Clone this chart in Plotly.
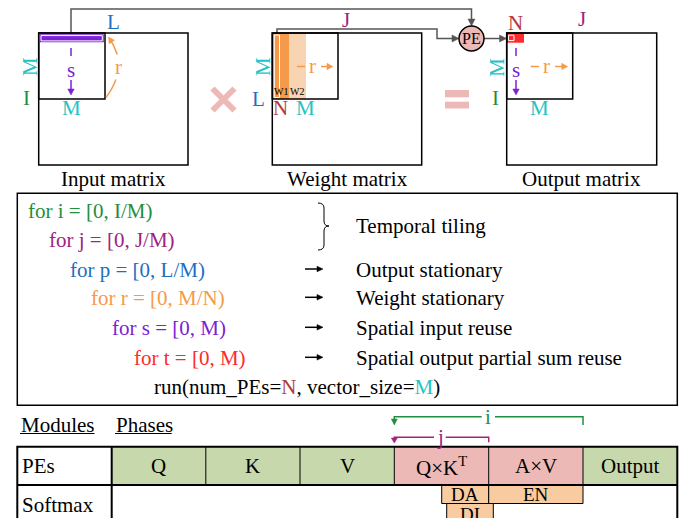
import math
import plotly.graph_objects as go

FONT = "Liberation Serif"
FS = 21

GREEN = "#1f8f3f"
MAGENTA = "#a0237f"
BLUE = "#1f6ebf"
ORANGE = "#f59a4a"
LIGHT_ORANGE = "#f9d4b2"
PURPLE = "#7b22d6"
RED = "#ff2a2a"
CYAN = "#23c4c4"
BROWN = "#b33b3b"
GREY = "#555555"
PINK = "#ecb9b6"
CELL_GREEN = "#c6d8ac"
PEACH = "#f8cba0"

# ---- content ----
matrix_titles = ["Input matrix", "Weight matrix", "Output matrix"]
loop_lines = ["for i = [0, I/M)", "for j = [0, J/M)", "for p = [0, L/M)",
              "for r = [0, M/N)", "for s = [0, M)", "for t = [0, M)"]
loop_colors = [GREEN, MAGENTA, BLUE, ORANGE, PURPLE, RED]
loop_meaning = ["Temporal tiling", "Output stationary", "Weight stationary",
                "Spatial input reuse", "Spatial output partial sum reuse"]
run_line = ("run(num_PEs=<span style='color:%s'>N</span>, vector_size="
            "<span style='color:%s'>M</span>)" % (BROWN, CYAN))
phases = ["Q", "K", "V", "Q×K<sup>T</sup>", "A×V", "Output"]
phase_colors = [CELL_GREEN, CELL_GREEN, CELL_GREEN, PINK, PINK, CELL_GREEN]
modules = ["PEs", "Softmax"]
softmax_ops = ["DA", "EN", "DI"]
loop_vars = ["i", "j"]

shapes = []
annos = []


def rect(x0, y0, x1, y1, color="black", lw=1.5, fill=None):
    shapes.append(dict(type="rect", xref="x", yref="y", x0=x0, y0=y0, x1=x1, y1=y1,
                       line=dict(color=color, width=lw),
                       fillcolor=fill if fill else "rgba(0,0,0,0)", layer="above"))


def frect(x0, y0, x1, y1, fill):
    shapes.append(dict(type="rect", xref="x", yref="y", x0=x0, y0=y0, x1=x1, y1=y1,
                       line=dict(width=0), fillcolor=fill, layer="above"))


def seg(x0, y0, x1, y1, color="black", lw=1.5):
    shapes.append(dict(type="line", xref="x", yref="y", x0=x0, y0=y0, x1=x1, y1=y1,
                       line=dict(color=color, width=lw), layer="above"))


def path(d, color="black", lw=1.5, fill=None):
    shapes.append(dict(type="path", xref="x", yref="y", path=d,
                       line=dict(color=color, width=lw),
                       fillcolor=fill if fill else "rgba(0,0,0,0)", layer="above"))


def head(tx, ty, dx, dy, color, L=7, W=3.5):
    n = math.hypot(dx, dy)
    ux, uy = dx / n, dy / n
    bx, by = tx - ux * L, ty - uy * L
    px, py = -uy * W, ux * W
    d = "M %.2f,%.2f L %.2f,%.2f L %.2f,%.2f Z" % (tx, ty, bx + px, by + py, bx - px, by - py)
    shapes.append(dict(type="path", xref="x", yref="y", path=d,
                       line=dict(color=color, width=0.5), fillcolor=color, layer="above"))


def txt(x, y, s, color="black", size=FS, xanchor="center", angle=0, bg=None):
    annos.append(dict(x=x, y=y, xref="x", yref="y", text=s, showarrow=False,
                      xanchor=xanchor, yanchor="middle", textangle=angle,
                      borderpad=0, bgcolor=bg if bg else "rgba(0,0,0,0)",
                      font=dict(family=FONT, size=size, color=color)))


def arrow(x0, y0, x1, y1, color, L=7, W=3.5, lw=1.5):
    n = math.hypot(x1 - x0, y1 - y0)
    ux, uy = (x1 - x0) / n, (y1 - y0) / n
    seg(x0, y0, x1 - ux * (L - 1), y1 - uy * (L - 1), color, lw)
    head(x1, y1, x1 - x0, y1 - y0, color, L, W)


# ================= TOP: matrices =================
path("M 71,34 L 71,9 L 471.5,9 L 471.5,20", GREY, 1.5)
head(471.5, 26, 0, 1, GREY)
path("M 277,33 L 277,29 L 437,29 L 437,38.5 L 453,38.5", GREY, 1.5)
head(459, 38.5, 1, 0, GREY)
arrow(484, 38.5, 506.5, 38.5, GREY)
shapes.append(dict(type="circle", xref="x", yref="y", x0=459, y0=26, x1=484, y1=51,
                   line=dict(color="black", width=1.5), fillcolor=PINK, layer="above"))
txt(471.5, 38.5, "PE", size=16)

# --- input matrix
rect(38.7, 33, 188, 165)
rect(38.7, 33, 105, 99)
frect(39.5, 34.2, 103.8, 42.3, PURPLE)
rect(41, 35.6, 102.3, 40.9, "white", 1)
txt(113, 22, "L", BLUE)
txt(30, 67, "M", CYAN, angle=-90)
txt(26, 98, "I", GREEN)
txt(71, 108, "M", CYAN)
seg(71, 48, 71, 56, PURPLE, 1.5)
txt(71, 70, "s", PURPLE)
arrow(71, 80, 71, 95, PURPLE, L=6, W=3.2)
path("M 106,97.5 Q 129,67 109.5,38.5", ORANGE, 1.5)
head(108.5, 37, -20, -30, ORANGE, L=6, W=3.2)
txt(118, 67, "r", ORANGE, bg="white")
txt(113, 179, matrix_titles[0])

# multiply sign
seg(212.5, 88.5, 234.5, 110.5, PINK, 6)
seg(212.5, 110.5, 234.5, 88.5, PINK, 6)

# --- weight matrix
frect(272.3, 33, 289, 99, ORANGE)
frect(289, 33, 306, 99, LIGHT_ORANGE)
rect(274.3, 35, 279.5, 97.5, "white", 1)
rect(272.3, 33, 421.7, 165)
rect(272.3, 33, 338, 99)
txt(280.7, 91.5, "W1", size=10)
txt(296.7, 91.5, "W2", size=10)
txt(346, 20, "J", MAGENTA)
txt(263, 67, "M", CYAN, angle=-90)
txt(258, 99, "L", BLUE)
txt(280, 108, "N", BROWN)
txt(305, 108, "M", CYAN)
seg(297, 66.5, 305, 66.5, ORANGE, 1.5)
txt(312.7, 66, "r", ORANGE)
arrow(321, 66.5, 333, 66.5, ORANGE, L=6, W=3.2)
txt(347, 179, matrix_titles[1])

# equals sign
frect(445, 90, 469, 97.3, PINK)
frect(445, 101.7, 469, 108.5, PINK)

# --- output matrix
frect(506.7, 33, 524, 42.7, RED)
rect(508.5, 35.2, 514, 40.6, "white", 1)
rect(506.7, 33, 656.7, 165)
rect(506.7, 33, 572.7, 99)
txt(515, 23, "N", BROWN)
txt(581.7, 19, "J", MAGENTA)
txt(496.7, 67, "M", CYAN, angle=-90)
txt(495, 98, "I", GREEN)
txt(539.3, 108, "M", CYAN)
seg(516, 48, 516, 56, PURPLE, 1.5)
txt(516, 70, "s", PURPLE)
arrow(516, 80, 516, 95, PURPLE, L=6, W=3.2)
seg(530.7, 66.5, 539, 66.5, ORANGE, 1.5)
txt(546.7, 66, "r", ORANGE)
arrow(555, 66.5, 567.7, 66.5, ORANGE, L=6, W=3.2)
txt(581.7, 179, matrix_titles[2])

# ================= MIDDLE: loop nest =================
rect(17.3, 193.3, 677.3, 405.3, "black", 1.5)
code_x = [26.7, 48.3, 69, 90, 111, 132.7]
code_y = [210.7, 240, 270, 298.3, 328.3, 358.3]
for s, c, x, y in zip(loop_lines, loop_colors, code_x, code_y):
    txt(x, y, s, c, xanchor="left")
txt(152.7, 386.7, run_line, xanchor="left")

path("M 318,203 Q 324,203 324,208 L 324,221 Q 324,226 329,226 "
     "Q 324,226 324,231 L 324,245 Q 324,250 318,250", "black", 1)
txt(355, 226, loop_meaning[0], xanchor="left")
for s, y in zip(loop_meaning[1:], code_y[2:]):
    arrow(305, y - 1, 323, y - 1, "black", L=6, W=2.8, lw=1.5)
    txt(355, y, s, xanchor="left")

# ================= BOTTOM: schedule table =================
txt(20, 425, "Modules", xanchor="left")
seg(20, 433.5, 94.5, 433.5, "black", 1)
txt(115, 425, "Phases", xanchor="left")
seg(115, 433.5, 171.7, 433.5, "black", 1)

col = [111.7, 205.8, 300, 394.3, 488.7, 583, 677.3]
top, mid, bot = 446.7, 485, 560
for k, (p, f) in enumerate(zip(phases, phase_colors)):
    frect(col[k], top, col[k + 1], mid, f)
    txt((col[k] + col[k + 1]) / 2, 466, p)
for x in col[1:-1]:
    seg(x, top, x, mid, "black", 1)

rect(441.7, mid, 488.7, 503.5, "black", 1, PEACH)
rect(488.7, mid, 583, 503.5, "black", 1, PEACH)
rect(446.7, 503.5, 493.3, 540, "black", 1, PEACH)
txt(465.2, 494.5, softmax_ops[0], size=19)
txt(535.8, 494.5, softmax_ops[1], size=19)
txt(470, 514.5, softmax_ops[2], size=19)

rect(17.3, top, col[-1], bot, "black", 2)
seg(17.3, mid, col[-1], mid, "black", 2)
seg(col[0], top, col[0], bot, "black", 2)
txt(20.7, 466, modules[0], xanchor="left")
txt(20.7, 504.5, modules[1], xanchor="left")

path("M 583,425 L 583,416.7 L 495,416.7", GREEN, 1.5)
path("M 481.7,416.7 L 394.3,416.7 L 394.3,420", GREEN, 1.5)
head(394.3, 425, 0, 1, GREEN, L=6, W=3)
txt(488.3, 416.5, loop_vars[0], GREEN)
path("M 488.7,442.3 L 488.7,437.3 L 445.7,437.3", MAGENTA, 1.5)
path("M 434,437.3 L 394.3,437.3 L 394.3,440", MAGENTA, 1.5)
head(394.3, 443, 0, 1, MAGENTA, L=5, W=3)
txt(440, 437, loop_vars[1], MAGENTA)

# The page body has an 8px margin; the axis ranges start at 8 so that
# data coordinates equal window pixels.
fig = go.Figure()
fig.update_layout(
    width=681, height=510,
    margin=dict(l=0, r=0, t=0, b=0),
    paper_bgcolor="white", plot_bgcolor="white",
    xaxis=dict(range=[8, 689], visible=False, fixedrange=True),
    yaxis=dict(range=[518, 8], visible=False, fixedrange=True),
    shapes=shapes, annotations=annos, showlegend=False,
)
fig.write_html("out.html")
